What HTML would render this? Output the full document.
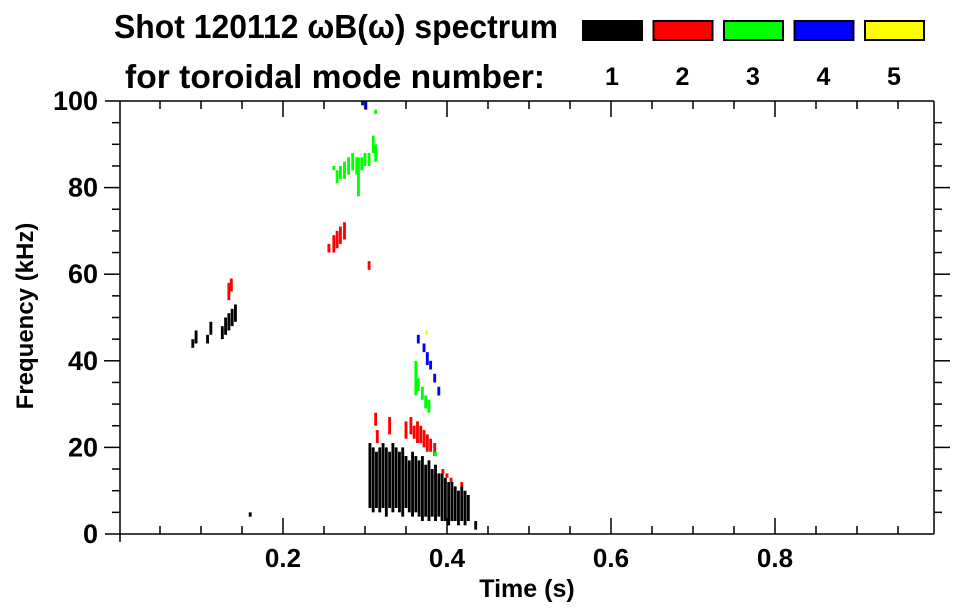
<!DOCTYPE html>
<html><head><meta charset="utf-8"><style>
html,body{margin:0;padding:0;background:#fff;}
svg{display:block;font-family:"Liberation Sans",sans-serif;font-weight:bold;}
</style></head><body>
<svg id="chart" width="963" height="615" viewBox="0 0 963 615">
<text x="114" y="38" font-size="33" textLength="444" lengthAdjust="spacingAndGlyphs">Shot 120112 ωB(ω) spectrum</text>
<text x="125" y="88" font-size="33" textLength="420" lengthAdjust="spacingAndGlyphs">for toroidal mode number:</text>
<g id="legend"></g>
<g id="marks"></g>
<g id="axes"></g>
<text x="527" y="597" font-size="25" text-anchor="middle">Time (s)</text>
<text transform="translate(33,316) rotate(-90)" font-size="24" text-anchor="middle">Frequency (kHz)</text>
</svg>
<script>
const modeColors=["#000000","#ff0000","#00ff00","#0000ff","#ffff00"];
const modeLabels=["1","2","3","4","5"];
const xTicks=[0.2,0.4,0.6,0.8];
const yTicks=[0,20,40,60,80,100];
// spectral streaks: time (s), low freq (kHz), high freq (kHz), mode index
const times=[0.306,0.310,0.314,0.318,0.322,0.326,0.330,0.334,0.338,0.342,0.346,0.350,0.354,0.358,0.362,0.366,0.370,0.374,0.378,0.382,0.386,0.390,0.394,0.398,0.402,0.406,0.410,0.414,0.418,0.422,0.426,
0.313,0.315,0.330,0.350,0.356,0.360,0.364,0.368,0.372,0.376,0.380,0.385,0.395,0.400,0.405,0.418,0.134,0.137,0.256,0.262,0.266,0.270,0.275,0.305,
0.362,0.365,0.370,0.374,0.378,0.386,0.262,0.266,0.270,0.275,0.280,0.285,0.290,0.292,0.296,0.300,0.305,0.310,0.313,0.313,
0.365,0.372,0.376,0.380,0.385,0.390,0.297,0.301,
0.090,0.094,0.108,0.112,0.126,0.130,0.134,0.138,0.142,0.160,0.435,
0.375];
const freqLow=[6,5,6,5,6,4,6,5,6,5,4,6,5,4,5,4,3,4,3,4,3,4,3,3,2,3,3,2,3,2,3,
25,21,23,22,23,22,21,21,20,19,19,18,14,13,12,11,54,56,65,65,66,67,68,61,
32,33,31,29,28,18,84,81,82,82,83,84,83,78,84,85,85,88,86,97,
44,42,39,38,35,32,99,98,
43,44,44,46,45,46,47,48,49,4,1,
46];
const freqHigh=[21,20,19,20,21,20,19,21,20,19,20,18,17,19,18,17,18,16,17,15,16,14,14,13,12,12,11,10,11,10,9,
28,24,27,26,27,25,26,25,24,23,22,21,15,14,13,12,58,59,67,69,70,71,72,63,
40,36,34,32,31,19,85,84,85,86,87,88,87,87,87,88,88,92,90,98,
46,44,42,40,37,34,100,100,
45,47,46,49,48,50,51,52,53,5,3,
47];
const modes=[0,0,0,0,0,0,0,0,0,0,0,0,0,0,0,0,0,0,0,0,0,0,0,0,0,0,0,0,0,0,0,
1,1,1,1,1,1,1,1,1,1,1,1,1,1,1,1,1,1,1,1,1,1,1,1,
2,2,2,2,2,2,2,2,2,2,2,2,2,2,2,2,2,2,2,2,
3,3,3,3,3,3,3,3,
0,0,0,0,0,0,0,0,0,0,0,
4];
const X0=120,X1=934,Y0=534,Y1=101;
const xScale=t=>119+t*820;
const yScale=f=>Y0-(f/100)*(Y0-Y1);
const NS="http://www.w3.org/2000/svg";
function mk(tag,attrs,parent){const e=document.createElementNS(NS,tag);for(const k in attrs)e.setAttribute(k,attrs[k]);parent.appendChild(e);return e;}
const marks=document.getElementById('marks');
for(let i=0;i<times.length;i++){
  const x=xScale(times[i]),w=xScale(0.0035)-xScale(0);
  const r=mk('rect',{x:x-w/2,y:yScale(freqHigh[i]),width:w,height:Math.max(1,yScale(freqLow[i])-yScale(freqHigh[i])),fill:modeColors[modes[i]]},marks);
  
  
}
const axes=document.getElementById('axes');
const st={stroke:'#000','stroke-width':1.5,fill:'none'};
mk('line',Object.assign({x1:105,y1:Y1,x2:X1,y2:Y1},st),axes);
mk('line',Object.assign({x1:105,y1:Y0,x2:X1,y2:Y0},st),axes);
mk('line',Object.assign({x1:X0,y1:Y1,x2:X0,y2:Y0+8},st),axes);
mk('line',Object.assign({x1:X1,y1:Y1,x2:X1,y2:Y0},st),axes);
for(let t=0.05;t<0.99;t+=0.05){
  const x=xScale(t);const major=Math.abs(t*5-Math.round(t*5))<1e-6;const L=major?16:8;
  mk('line',Object.assign({x1:x,y1:Y0,x2:x,y2:Y0-L},st),axes);
  mk('line',Object.assign({x1:x,y1:Y1,x2:x,y2:Y1+L},st),axes);
}
for(let f=5;f<100;f+=5){
  const y=yScale(f);const L=(f%20===0)?16:8;
  mk('line',Object.assign({x1:X0,y1:y,x2:X0-L,y2:y},st),axes);
  mk('line',Object.assign({x1:X1,y1:y,x2:X1+L,y2:y},st),axes);
}
xTicks.forEach(v=>{const t=mk('text',{x:xScale(v),y:567,'font-size':26,'text-anchor':'middle'},axes);t.textContent=v.toFixed(1);
  
  });
yTicks.forEach(v=>{const t=mk('text',{x:98,y:yScale(v)+9,'font-size':27,'text-anchor':'end'},axes);t.textContent=String(v);
  
  });
const leg=document.getElementById('legend');
modeColors.forEach((c,i)=>{
  const x=582+i*70.5;
  const r=mk('rect',{x:x+1,y:21,width:59,height:19,fill:c,stroke:'#000','stroke-width':2},leg);
  
  
  const t=mk('text',{x:x+30,y:85,'font-size':25,'text-anchor':'middle'},leg);t.textContent=modeLabels[i];
  
  
});
</script>
</body></html>
